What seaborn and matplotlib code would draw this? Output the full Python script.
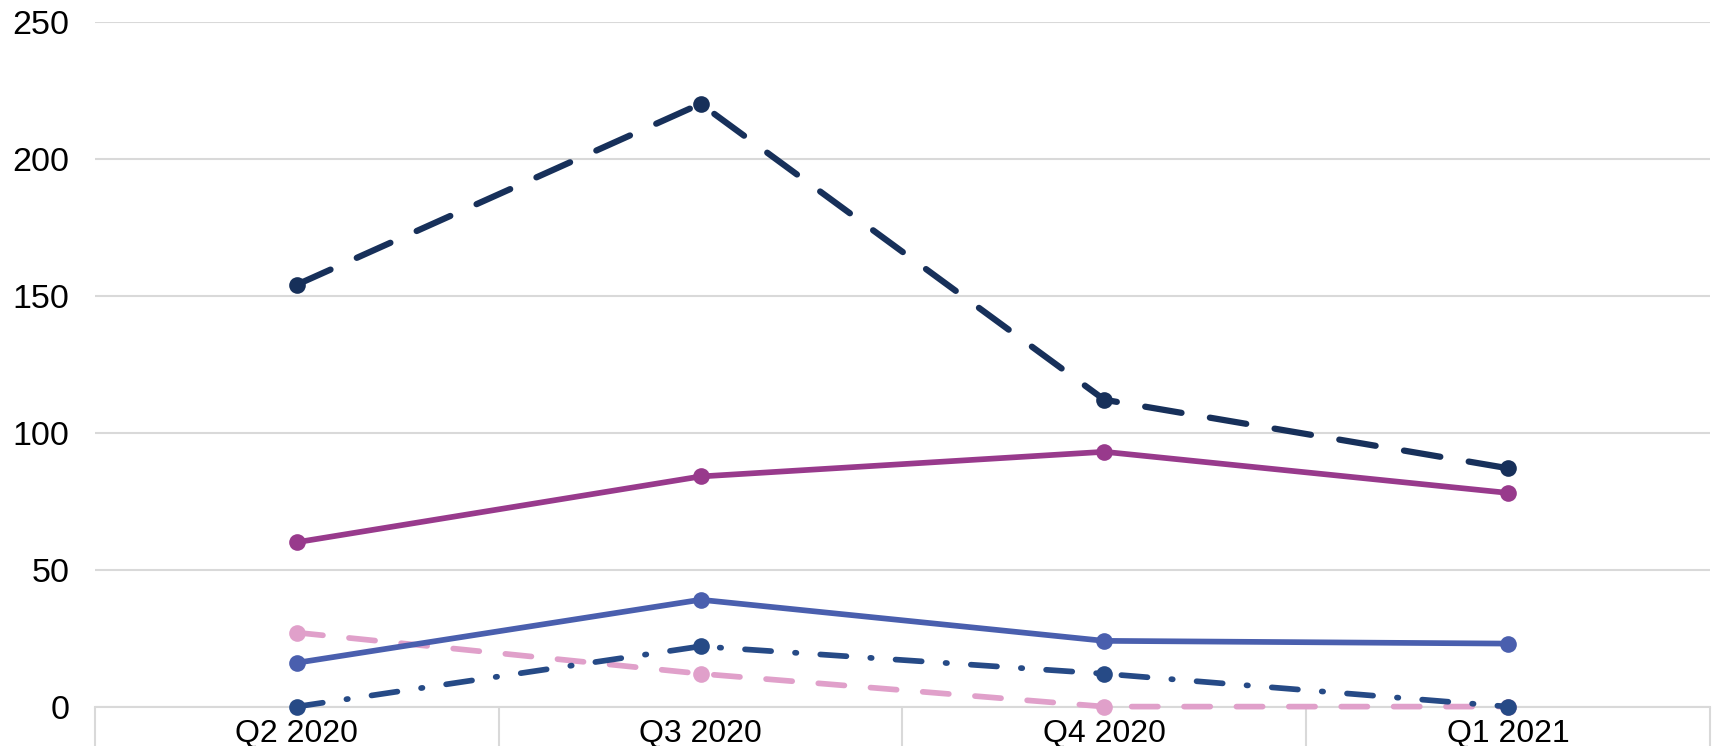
import matplotlib
matplotlib.use("Agg")
import matplotlib.pyplot as plt
import seaborn as sns
import pandas as pd

quarters = ["Q2 2020", "Q3 2020", "Q4 2020", "Q1 2021"]
series_a = [154, 220, 112, 87]   # navy, long dashes
series_b = [60, 84, 93, 78]      # purple, solid
series_c = [16, 39, 24, 23]      # blue, solid
series_d = [27, 12, 0, 0]        # pink, short dashes
series_e = [0, 22, 12, 0]        # navy, dash-dot
y_ticks = [0, 50, 100, 150, 200, 250]

sns.set_theme(style="white")
plt.rcParams["font.family"] = ["Liberation Sans", "DejaVu Sans"]

fig = plt.figure(figsize=(17.15, 7.46), dpi=100)
ax = fig.add_axes([0.0554, 0.0528, 0.9416, 0.9182])

# (values, colour, linewidth, dash pattern)
styles = [
    (series_a, "#17305A", 4.5, (0, (5.9, 4.6))),
    (series_d, "#E0A0CA", 4.1, (0, (4.6, 4.6))),
    (series_e, "#264A86", 4.1, (0, (4.6, 4.2, 0.25, 4.2))),
    (series_c, "#4A5FAE", 4.1, "-"),
    (series_b, "#983A8C", 4.1, "-"),
]

for values, color, lw, ls in styles:
    df = pd.DataFrame({"x": range(len(quarters)), "y": values})
    sns.lineplot(data=df, x="x", y="y", ax=ax, color=color, linewidth=lw,
                 linestyle=ls, marker="o", markersize=12, markeredgewidth=0,
                 dash_capstyle="round", solid_capstyle="round",
                 clip_on=False, zorder=3)

ax.set_xlim(-0.5, len(quarters) - 0.5)
ax.set_ylim(0, 250)
ax.set_yticks(y_ticks)
ax.set_yticklabels([str(t) for t in y_ticks])
ax.set_xticks(range(len(quarters)))
ax.set_xticklabels(quarters)
ax.set_xticks([i - 0.5 for i in range(len(quarters) + 1)], minor=True)
ax.set_xlabel("")
ax.set_ylabel("")

ax.grid(axis="y", color="#D9D9D9", linewidth=1.5)
ax.grid(axis="x", visible=False)
for side in ["top", "right", "left"]:
    ax.spines[side].set_visible(False)
ax.spines["bottom"].set_color("#D9D9D9")
ax.spines["bottom"].set_linewidth(1.5)
ax.spines["bottom"].set_zorder(1)

ax.tick_params(axis="y", length=0, pad=18.5, labelsize=24.5, labelcolor="black")
ax.tick_params(axis="x", which="major", length=0, pad=9, labelsize=23, labelcolor="black")
ax.tick_params(axis="x", which="minor", length=30, width=1.5, color="#D9D9D9",
               direction="out", bottom=True)

fig.savefig("out.png", dpi=100, facecolor="white")
